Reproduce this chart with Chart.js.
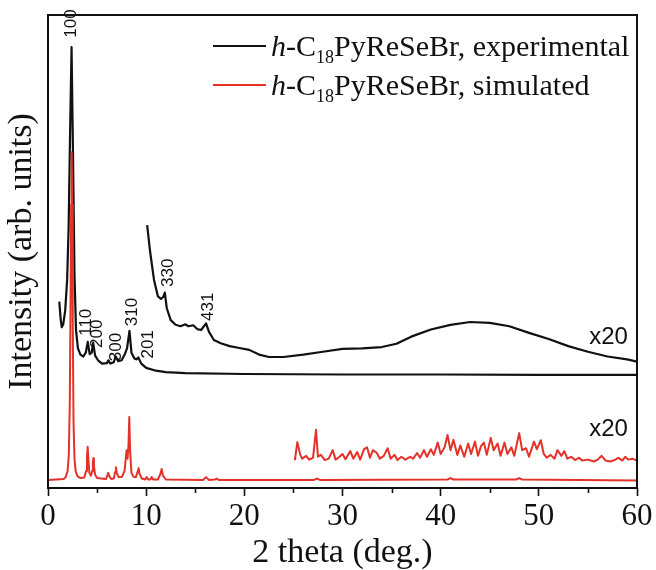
<!DOCTYPE html>
<html>
<head>
<meta charset="utf-8">
<script src="https://cdn.jsdelivr.net/npm/chart.js@4.4.1/dist/chart.umd.min.js"></script>
<style>
    html, body { margin: 0; padding: 0; background: #fff; }
    #wrap { width: 656px; height: 570px; }
</style>
</head>
<body>
<div id="wrap"><canvas id="xrdChart" width="656" height="570"></canvas></div>
<script>
// experimental pattern (raw) - 2 theta / intensity (arb.)
const expX = [1.15, 1.3, 1.4, 1.55, 1.75, 1.95, 2.1, 2.25, 2.4, 2.55, 2.7, 2.85, 3.05, 3.3, 3.6, 3.85, 4.05, 4.25, 4.45, 4.6, 4.8, 5.1, 5.5, 6.0, 6.15, 6.35, 6.7, 6.9, 7.15, 7.5, 7.85, 8.05, 8.3, 8.5, 8.8, 9.0, 9.2, 9.5, 10, 11, 12, 14, 20, 30, 40, 50, 60];
const expY = [39.4, 35.5, 34.0, 34.6, 37.5, 44, 55, 75, 93.2, 70, 45, 33.5, 29.5, 28.2, 27.8, 28.6, 30.9, 28.3, 28.6, 30.7, 28.0, 27.0, 26.3, 26.4, 27.0, 26.3, 26.6, 27.8, 26.8, 27.0, 28.4, 29.5, 33.2, 28.6, 27.4, 27.2, 27.6, 26.3, 25.4, 24.8, 24.5, 24.3, 24.1, 24.0, 24.0, 23.9, 23.9];

// experimental pattern x20
const expZoomX = [10.1, 10.4, 10.8, 11.2, 11.5, 11.75, 11.9, 12.1, 12.5, 13.0, 13.5, 14.0, 14.3, 14.8, 15.2, 15.6, 16.1, 16.4, 16.9, 17.6, 18.5, 19.5, 20.5, 21.5, 22.5, 24, 26, 28, 30, 32, 34, 35.5, 37, 39, 41, 43, 45, 47, 49, 51, 53, 55, 57, 59, 60];
const expZoomY = [55.6, 50, 44, 40.5, 40.0, 40.4, 41.3, 38, 35.5, 34.5, 34.2, 34.6, 34.2, 34.4, 33.6, 33.4, 34.8, 33, 31.3, 30.6, 30.0, 29.6, 29.2, 28.2, 27.7, 27.7, 28.2, 28.8, 29.4, 29.5, 29.8, 30.5, 32, 33.5, 34.5, 35.1, 34.9, 34.2, 32.8, 31.5, 30.0, 28.8, 27.8, 27.2, 26.7];

// simulated pattern (raw)
const simX = [0, 1.6, 1.8, 2.0, 2.12, 2.22, 2.3, 2.36, 2.41, 2.46, 2.52, 2.6, 2.7, 2.82, 3.0, 3.3, 3.7, 3.88, 3.97, 4.04, 4.11, 4.22, 4.38, 4.5, 4.57, 4.62, 4.68, 4.8, 5.0, 5.9, 6.04, 6.14, 6.24, 6.45, 6.7, 6.84, 6.92, 7.0, 7.2, 7.55, 7.8, 7.93, 8.01, 8.1, 8.2, 8.28, 8.36, 8.5, 8.7, 8.95, 9.13, 9.23, 9.33, 9.55, 9.9, 10.05, 10.2, 10.42, 10.56, 10.7, 11.2, 11.45, 11.58, 11.71, 12.0, 15.8, 16.1, 16.4, 17.0, 17.2, 17.4, 27.1, 27.4, 27.7, 40.7, 41, 41.3, 47.7, 48, 48.3, 60];
const simY = [1.7, 1.9, 2.3, 3.6, 7, 18, 40, 60, 71, 60, 35, 14, 6, 3.5, 2.5, 2.1, 2.2, 3.6, 6.5, 8.7, 6, 3.2, 2.6, 3.6, 5.2, 6.3, 4.6, 2.8, 2.1, 1.9, 2.6, 3.2, 2.5, 1.9, 2.0, 3.4, 4.4, 3.2, 2.3, 2.4, 3.6, 6.5, 8.0, 6.2, 9, 15.0, 8, 3.2, 2.4, 2.3, 3.4, 4.2, 3.0, 2.0, 1.8, 2.3, 1.8, 1.8, 2.3, 1.8, 1.8, 3.0, 4.0, 2.6, 1.8, 1.7, 2.3, 1.7, 1.8, 2.0, 1.7, 1.7, 2.0, 1.7, 1.8, 2.1, 1.8, 1.8, 2.1, 1.8, 1.6];

// simulated pattern x20
const simZoomX = [25.15, 25.4, 25.7, 25.9, 26.3, 26.6, 27.0, 27.3, 27.5, 27.8, 28.2, 28.6, 29.0, 29.3, 29.7, 30.0, 30.3, 30.8, 31.1, 31.5, 31.8, 32.2, 32.5, 32.8, 33.1, 33.5, 33.8, 34.2, 34.6, 34.9, 35.3, 35.6, 36.0, 36.4, 36.9, 37.2, 37.6, 37.9, 38.3, 38.6, 39.0, 39.3, 39.7, 40.0, 40.4, 40.7, 41.0, 41.3, 41.7, 42.0, 42.4, 42.8, 43.1, 43.5, 43.8, 44.1, 44.4, 44.7, 45.1, 45.4, 45.8, 46.1, 46.5, 46.8, 47.2, 47.5, 48.0, 48.3, 48.7, 49.0, 49.5, 49.8, 50.2, 50.5, 50.8, 51.2, 51.6, 51.9, 52.3, 52.6, 52.9, 53.3, 53.7, 54.1, 54.4, 55.0, 55.6, 56.0, 56.4, 56.8, 57.3, 57.8, 58.1, 58.5, 58.8, 59.1, 59.5, 60.0];
const simZoomY = [5.9, 9.7, 7.0, 6.2, 6.8, 6.0, 6.4, 12.3, 6.6, 7.0, 5.9, 6.2, 8.0, 6.0, 6.6, 7.2, 6.1, 7.8, 6.2, 7.6, 6.0, 8.2, 8.6, 6.4, 8.0, 7.4, 6.2, 6.8, 8.4, 6.2, 7.0, 5.9, 6.6, 6.0, 6.6, 6.2, 7.4, 6.4, 8.0, 6.6, 8.2, 7.0, 9.6, 7.2, 8.6, 11.2, 8.0, 10.2, 7.0, 9.0, 6.6, 9.4, 7.2, 9.8, 6.8, 8.8, 9.6, 7.0, 10.6, 8.0, 9.4, 6.8, 9.6, 7.2, 8.6, 6.8, 11.6, 8.0, 8.4, 6.6, 9.8, 8.2, 10.1, 7.2, 6.4, 7.0, 6.2, 8.0, 6.8, 7.8, 6.2, 6.6, 5.9, 6.4, 5.8, 6.0, 5.6, 6.0, 6.8, 5.8, 5.6, 6.0, 6.4, 5.8, 6.6, 6.0, 6.2, 5.8];

// peak indices and where their labels sit
const hklLabels = ['100', '110', '200', '300', '310', '201', '330', '431'];
const hklX = [2.35, 3.95, 5.05, 6.95, 8.6, 10.2, 12.25, 16.3];
const hklY = [98.2, 35.0, 32.6, 29.8, 37.2, 30.4, 45.5, 38.3];

const x20X = [57.1, 57.1];
const x20Y = [31.9, 12.4];

const seriesNames = ['experimental', 'simulated'];
const seriesColors = ['#111111', '#e4322b'];

function toPts(xs, ys) {
    return xs.map((x, i) => ({ x: x, y: ys[i] }));
}

const SERIF = '"Liberation Serif", "Times New Roman", serif';
const SANS = '"Liberation Sans", Arial, sans-serif';

const framePlugin = {
    id: 'frame',
    afterDraw(chart) {
        const c = chart.ctx;
        const a = chart.chartArea;
        const xs = chart.scales.x;
        const ys = chart.scales.y;
        c.save();
        // frame
        c.strokeStyle = '#111';
        c.lineWidth = 2;
        c.strokeRect(a.left, a.top, a.right - a.left, a.bottom - a.top);
        // minor ticks
        c.lineWidth = 1.6;
        for (let v = 5; v < 60; v += 10) {
            const px = Math.round(xs.getPixelForValue(v)) + 0.5;
            c.beginPath();
            c.moveTo(px, a.bottom);
            c.lineTo(px, a.bottom + 5);
            c.stroke();
        }
        // hkl labels
        c.fillStyle = '#111';
        c.font = '17px ' + SANS;
        c.textAlign = 'center';
        c.textBaseline = 'middle';
        hklLabels.forEach((t, i) => {
            c.save();
            c.translate(xs.getPixelForValue(hklX[i]), ys.getPixelForValue(hklY[i]));
            c.rotate(-Math.PI / 2);
            c.fillText(t, 0, 0);
            c.restore();
        });
        // x20 marks
        c.font = '24px ' + SANS;
        x20X.forEach((x, i) => {
            c.fillText('x20', xs.getPixelForValue(x), ys.getPixelForValue(x20Y[i]));
        });
        // legend
        const rows = [46, 85];
        seriesNames.forEach((name, i) => {
            const y = rows[i];
            c.strokeStyle = seriesColors[i];
            c.lineWidth = 2;
            c.beginPath();
            c.moveTo(213, y);
            c.lineTo(266, y);
            c.stroke();
            let x = 271;
            const base = y + 10;
            c.textAlign = 'left';
            c.textBaseline = 'alphabetic';
            c.fillStyle = '#111';
            c.font = 'italic 30px ' + SERIF;
            c.fillText('h', x, base);
            x += c.measureText('h').width;
            c.font = '30px ' + SERIF;
            c.fillText('-C', x, base);
            x += c.measureText('-C').width;
            c.font = '18px ' + SERIF;
            c.fillText('18', x, base + 7);
            x += c.measureText('18').width;
            c.font = '30px ' + SERIF;
            c.fillText('PyReSeBr, ' + name, x, base);
        });
        c.restore();
    }
};

const ctx = document.getElementById('xrdChart').getContext('2d');
const chart = new Chart(ctx, {
    type: 'line',
    data: {
        datasets: [
            { data: toPts(simX, simY), borderColor: seriesColors[1], borderWidth: 2, order: 0 },
            { data: toPts(simZoomX, simZoomY), borderColor: seriesColors[1], borderWidth: 2, order: 0 },
            { data: toPts(expX, expY), borderColor: seriesColors[0], borderWidth: 2.2, order: 1 },
            { data: toPts(expZoomX, expZoomY), borderColor: seriesColors[0], borderWidth: 2.2, order: 1 }
        ]
    },
    options: {
        responsive: false,
        animation: false,
        events: [],
        elements: {
            point: { radius: 0 },
            line: { tension: 0, fill: false, borderJoinStyle: 'round' }
        },
        layout: { padding: { top: 15, right: 19, left: 0, bottom: 0 } },
        plugins: {
            legend: { display: false },
            tooltip: { enabled: false }
        },
        scales: {
            x: {
                type: 'linear',
                min: 0,
                max: 60,
                border: { display: false },
                grid: {
                    drawOnChartArea: false,
                    drawTicks: true,
                    tickLength: 8,
                    tickWidth: 1.6,
                    tickColor: (c) => (c.tick && c.tick.value % 10 === 0) ? '#111' : 'rgba(0,0,0,0)'
                },
                ticks: {
                    stepSize: 5,
                    padding: 2,
                    maxRotation: 0,
                    autoSkip: false,
                    color: '#111',
                    font: { family: SERIF, size: 31 },
                    callback: (v) => v % 10 === 0 ? v : ''
                },
                title: {
                    display: true,
                    text: '2 theta (deg.)',
                    color: '#111',
                    font: { family: SERIF, size: 34, lineHeight: 1 },
                    padding: { top: 0, bottom: 0 }
                },
                afterFit: (s) => { s.height = 82; }
            },
            y: {
                min: 0,
                max: 100,
                border: { display: false },
                grid: { display: false },
                ticks: { display: false },
                title: {
                    display: true,
                    text: 'Intensity (arb. units)',
                    color: '#111',
                    font: { family: SERIF, size: 34, lineHeight: 1 },
                    padding: { top: 5, bottom: 0 }
                },
                afterFit: (s) => { s.width = 48; }
            }
        }
    },
    plugins: [framePlugin]
});
</script>
</body>
</html>
